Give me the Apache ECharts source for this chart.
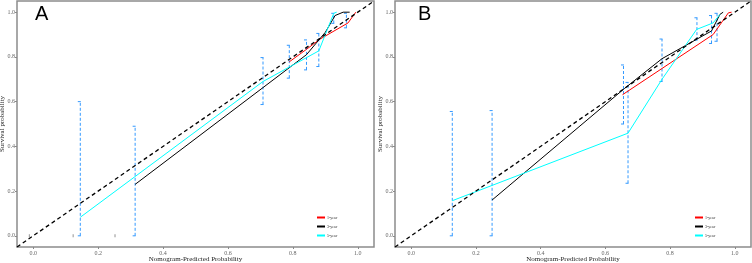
<!DOCTYPE html>
<html>
<head>
<meta charset="utf-8">
<title>Calibration</title>
<script src="https://cdn.jsdelivr.net/npm/echarts@6/dist/echarts.min.js"></script>
<style>
  html, body { margin: 0; height: 100%; background: #fff; }
  #main { width: 752px; height: 263px; }
</style>
</head>
<body>
<div id="main"></div>
<script>
// tick labels shared by both panels
var ticks = [0, 0.2, 0.4, 0.6, 0.8, 1.0];
var diag = [[-0.05, -0.05], [1.05, 1.05]];
var names = ['1-year', '3-year', '5-year'];

// panel A : [predicted, observed]
var a1 = [[0.789, 0.778], [0.842, 0.834], [0.883, 0.879], [0.97, 0.952], [0.994, 1.0]];
var a3 = [[0.314, 0.23], [0.842, 0.81], [0.90, 0.91], [0.93, 0.985], [0.955, 1.0], [0.975, 1.0]];
var a5 = [[0.145, 0.083], [0.708, 0.69], [0.88, 0.827], [0.926, 0.995], [0.935, 1.0]];
// error bars A : [x, low, high]
var errA = [[0.145, 0, 0.60], [0.314, 0, 0.49], [0.708, 0.587, 0.797], [0.789, 0.705, 0.852],
            [0.842, 0.742, 0.876], [0.88, 0.757, 0.905], [0.926, 0.95, 0.995], [0.965, 0.93, 0.995]];
var rugA = [[-0.012, 0], [0.123, 0], [0.252, 0]];

// panel B
var b1 = [[0.653, 0.631], [0.933, 0.90], [0.98, 0.997], [0.99, 1.0]];
var b3 = [[0.25, 0.16], [0.66, 0.66], [0.775, 0.792], [0.928, 0.916], [0.954, 0.99], [0.964, 1.0]];
var b5 = [[0.127, 0.157], [0.67, 0.459], [0.775, 0.70], [0.882, 0.923], [0.933, 0.952], [0.954, 0.99]];
var errB = [[0.127, 0, 0.556], [0.25, 0, 0.56], [0.656, 0.50, 0.764], [0.67, 0.235, 0.686],
            [0.775, 0.69, 0.88], [0.883, 0.875, 0.975], [0.928, 0.86, 0.985], [0.945, 0.87, 0.995]];

var serif = 'Liberation Serif';
var colors = ['#ff0000', '#000000', '#00ffff'];

function xAx(idx) {
  return {
    type: 'value', gridIndex: idx, min: -0.05, max: 1.05,
    name: 'Nomogram-Predicted Probability', nameLocation: 'middle', nameGap: 9, nameMoveOverlap: false,
    nameTextStyle: { fontFamily: serif, fontSize: 7, color: '#222' },
    axisLine: { show: false, onZero: false },
    axisTick: { show: true, length: 2, customValues: ticks, lineStyle: { color: '#888' } },
    axisLabel: { customValues: ticks, fontFamily: serif, fontSize: 6, color: '#666', margin: 3,
                 formatter: function (v) { return v.toFixed(1); } },
    splitLine: { show: false }
  };
}
function yAx(idx) {
  return {
    type: 'value', gridIndex: idx, min: -0.05, max: 1.05,
    name: 'Survival probability', nameLocation: 'middle', nameGap: 11, nameMoveOverlap: false,
    nameTextStyle: { fontFamily: serif, fontSize: 7, color: '#222' },
    axisLine: { show: false, onZero: false },
    axisTick: { show: true, length: 2, customValues: ticks, lineStyle: { color: '#888' } },
    axisLabel: { customValues: ticks, fontFamily: serif, fontSize: 6, color: '#666', margin: 2,
                 formatter: function (v) { return v.toFixed(1); } },
    splitLine: { show: false }
  };
}

function errSeries(idx, data) {
  return {
    type: 'custom', xAxisIndex: idx, yAxisIndex: idx, data: data, silent: true, z: 1,
    renderItem: function (params, api) {
      var lo = api.coord([api.value(0), api.value(1)]);
      var hi = api.coord([api.value(0), api.value(2)]);
      var st = { stroke: '#3399ff', lineWidth: 1, lineDash: [3, 2], fill: null };
      return {
        type: 'group', children: [
          { type: 'line', shape: { x1: lo[0], y1: lo[1], x2: hi[0], y2: hi[1] }, style: st },
          { type: 'line', shape: { x1: lo[0] - 2.5, y1: lo[1], x2: lo[0] + 2.5, y2: lo[1] }, style: st },
          { type: 'line', shape: { x1: hi[0] - 2.5, y1: hi[1], x2: hi[0] + 2.5, y2: hi[1] }, style: st }
        ]
      };
    }
  };
}
function curve(idx, name, data, color) {
  return {
    type: 'line', name: name, xAxisIndex: idx, yAxisIndex: idx, data: data,
    symbol: 'none', z: 3, lineStyle: { color: color, width: 1 }, itemStyle: { color: color }
  };
}
function diagSeries(idx) {
  return {
    type: 'line', xAxisIndex: idx, yAxisIndex: idx, data: diag, symbol: 'none', z: 4, silent: true,
    lineStyle: { color: '#000', width: 1.3, type: [4, 3] }
  };
}
function legend(left) {
  return {
    data: names, orient: 'vertical', left: left, top: 210, icon: 'rect',
    itemWidth: 8, itemHeight: 2, itemGap: 4,
    textStyle: { fontFamily: serif, fontSize: 4, lineHeight: 5, color: '#333', padding: [0, 0, 0, -3] }
  };
}

var chart = echarts.init(document.getElementById('main'), null, { renderer: 'canvas' });
chart.setOption({
  animation: false,
  backgroundColor: '#fff',
  grid: [
    { left: 17, top: 1, width: 357, height: 246, show: true, borderColor: '#8c8c8c', borderWidth: 1.5,
      outerBoundsMode: 'none', containLabel: false },
    { left: 395, top: 1, width: 356, height: 246, show: true, borderColor: '#8c8c8c', borderWidth: 1.5,
      outerBoundsMode: 'none', containLabel: false }
  ],
  xAxis: [xAx(0), xAx(1)],
  yAxis: [yAx(0), yAx(1)],
  legend: [legend(312), legend(690)],
  graphic: [
    { type: 'text', left: 35, top: 4, style: { text: 'A', fontFamily: 'Liberation Sans', fontSize: 20, fill: '#000' } },
    { type: 'text', left: 418, top: 4, style: { text: 'B', fontFamily: 'Liberation Sans', fontSize: 20, fill: '#000' } }
  ],
  series: [
    errSeries(0, errA),
    {
      type: 'scatter', xAxisIndex: 0, yAxisIndex: 0, data: rugA, symbol: 'rect',
      symbolSize: [1, 3], itemStyle: { color: '#777' }, silent: true
    },
    curve(0, names[0], a1, colors[0]),
    curve(0, names[1], a3, colors[1]),
    curve(0, names[2], a5, colors[2]),
    diagSeries(0),
    errSeries(1, errB),
    curve(1, names[0], b1, colors[0]),
    curve(1, names[1], b3, colors[1]),
    curve(1, names[2], b5, colors[2]),
    diagSeries(1)
  ]
});
</script>
</body>
</html>
